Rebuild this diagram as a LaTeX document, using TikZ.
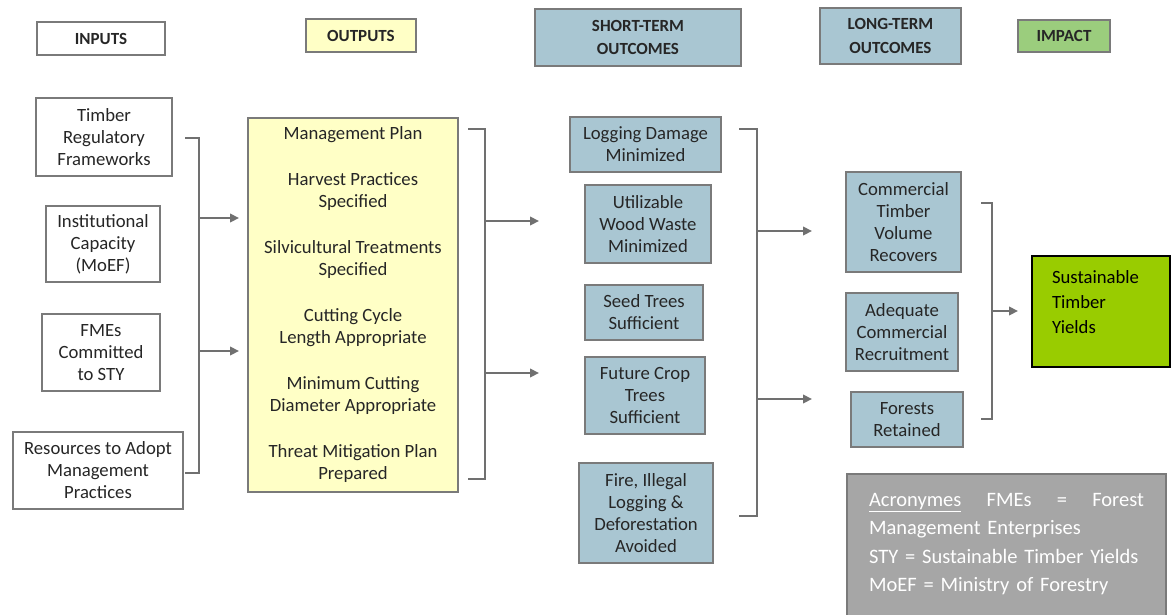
\documentclass[tikz,border=0pt]{standalone}
\usepackage{fontspec}
\setmainfont{Carlito}
\usetikzlibrary{arrows.meta}
\definecolor{linegray}{HTML}{707070}
\definecolor{bordergray}{HTML}{7A7A7A}
\definecolor{yellowfill}{HTML}{FFFFC6}
\definecolor{bluefill}{HTML}{A9C6D2}
\definecolor{greenhdr}{HTML}{9BCD7D}
\definecolor{impactgreen}{HTML}{99CC00}
\definecolor{acrogray}{HTML}{A6A6A6}
\definecolor{textgray}{HTML}{262626}
\begin{document}
\begin{tikzpicture}[x=1pt,y=-1pt,
  every node/.style={inner sep=0pt, outer sep=0pt},
  bx/.style={draw=bordergray, line width=1.3pt, align=center, text=textgray,
    font=\fontsize{18.7}{22}\selectfont},
  hdr/.style={bx, font=\bfseries\fontsize{17}{23.5}\selectfont},
  inbox/.style={bx, fill=white},
  outbox/.style={bx, fill=yellowfill},
  stbox/.style={bx, fill=bluefill},
  conn/.style={draw=linegray, line width=2.6pt},
  arr/.style={conn, -{Triangle[length=9pt,width=8.5pt]}}]
\useasboundingbox (0,0) rectangle (1171,614);
\fill[white] (0,0) rectangle (1171,614);

% headers
\node[hdr, fill=white, minimum width=128pt, minimum height=33pt] (hin) at (101,38.5) {INPUTS};
\node[hdr, fill=yellowfill, minimum width=110pt, minimum height=33pt] (hout) at (361,35.5) {OUTPUTS};
\node[hdr, fill=bluefill, minimum width=206pt, minimum height=57pt] (hst) at (638,37.5) {SHORT-TERM\\OUTCOMES};
\node[hdr, fill=bluefill, minimum width=141pt, minimum height=56pt] (hlt) at (890.5,36) {LONG-TERM\\OUTCOMES};
\node[hdr, fill=greenhdr, minimum width=92pt, minimum height=32pt] (him) at (1064,36) {IMPACT};

% inputs
\node[inbox, minimum width=136pt, minimum height=78pt] (i1) at (104,137) {Timber\\Regulatory\\Frameworks};
\node[inbox, minimum width=114pt, minimum height=76pt] (i2) at (103,244) {Institutional\\Capacity\\(MoEF)};
\node[inbox, minimum width=118pt, minimum height=77pt] (i3) at (101,352.5) {FMEs\\Committed\\to STY};
\node[inbox, minimum width=170pt, minimum height=77pt] (i4) at (98,470.5) {Resources to Adopt\\Management\\Practices};

% outputs
\node[outbox, minimum width=210pt, minimum height=374pt] (o1) at (353,305)
  {Management Plan\\[24pt]Harvest Practices\\Specified\\[24pt]Silvicultural Treatments\\Specified\\[24pt]Cutting Cycle\\Length Appropriate\\[24pt]Minimum Cutting\\Diameter Appropriate\\[24pt]Threat Mitigation Plan\\Prepared};

% short-term
\node[stbox, minimum width=151pt, minimum height=55pt] (s1) at (645.5,144.5) {Logging Damage\\Minimized};
\node[stbox, minimum width=126pt, minimum height=78pt] (s2) at (648,224) {Utilizable\\Wood Waste\\Minimized};
\node[stbox, minimum width=118pt, minimum height=55pt] (s3) at (644,312.5) {Seed Trees\\Sufficient};
\node[stbox, minimum width=120pt, minimum height=77pt] (s4) at (645,395.5) {Future Crop\\Trees\\Sufficient};
\node[stbox, minimum width=134pt, minimum height=100pt] (s5) at (646,513) {Fire, Illegal\\Logging \&\\Deforestation\\Avoided};

% long-term
\node[stbox, minimum width=115pt, minimum height=100pt] (l1) at (903.5,222) {Commercial\\Timber\\Volume\\Recovers};
\node[stbox, minimum width=112pt, minimum height=78pt] (l2) at (902,332) {Adequate\\Commercial\\Recruitment};
\node[stbox, minimum width=112pt, minimum height=55pt] (l3) at (907,419.5) {Forests\\Retained};

% impact
\node[draw=black, line width=1.5pt, fill=impactgreen, minimum width=138pt, minimum height=111pt] (imp) at (1101,311.5) {};
\node[anchor=north west, align=left, text=black, font=\fontsize{18.7}{25}\selectfont] (impt) at (1052,271) {Sustainable\\Timber\\Yields};

% acronyms
\draw[draw=bordergray, line width=1.5pt, fill=acrogray] (847,474) rectangle (1166,630);
\node[anchor=north west, align=left, text width=300pt, text=white, font=\fontsize{20.5}{28.5}\selectfont] (acro) at (869,493)
  {\makebox[275pt][l]{\underline{Acronymes}\hfill FMEs\hfill =\hfill Forest}\\Management Enterprises\\STY = Sustainable Timber Yields\\MoEF = Ministry of Forestry};

% bracket 1 (inputs)
\coordinate (b1t) at (185,138); \coordinate (b1b) at (185,473);
\coordinate (b1a) at (199,218); \coordinate (b1ae) at (239,218);
\coordinate (b1c) at (199,351); \coordinate (b1ce) at (239,351);
\draw[conn] (b1t) -| (b1a) |- (b1b);
\draw[arr] (b1a) -- (b1ae);
\draw[arr] (b1c) -- (b1ce);

% bracket 2 (outputs)
\coordinate (b2t) at (468,129); \coordinate (b2b) at (468,479);
\coordinate (b2a) at (485,221); \coordinate (b2ae) at (539,221);
\coordinate (b2c) at (485,373); \coordinate (b2ce) at (539,373);
\draw[conn] (b2t) -| (b2a) |- (b2b);
\draw[arr] (b2a) -- (b2ae);
\draw[arr] (b2c) -- (b2ce);

% bracket 3 (short-term)
\coordinate (b3t) at (739,129); \coordinate (b3b) at (739,516);
\coordinate (b3a) at (757,231); \coordinate (b3ae) at (812,231);
\coordinate (b3c) at (757,399); \coordinate (b3ce) at (812,399);
\draw[conn] (b3t) -| (b3a) |- (b3b);
\draw[arr] (b3a) -- (b3ae);
\draw[arr] (b3c) -- (b3ce);

% bracket 4 (long-term)
\coordinate (b4t) at (981,203); \coordinate (b4b) at (981,419);
\coordinate (b4a) at (992,311); \coordinate (b4ae) at (1018,311);
\draw[conn] (b4t) -| (b4a) |- (b4b);
\draw[arr] (b4a) -- (b4ae);
\end{tikzpicture}
\end{document}
